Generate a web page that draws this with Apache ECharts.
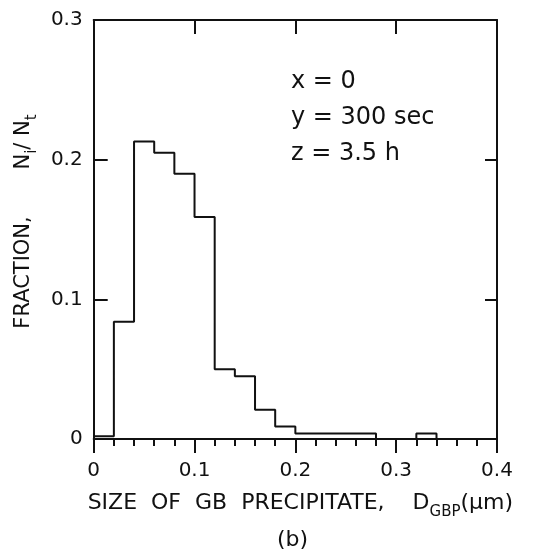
<!DOCTYPE html>
<html>
<head>
<meta charset="UTF-8">
<script src="https://cdn.jsdelivr.net/npm/echarts@6/dist/echarts.min.js"></script>
<style>
  html, body { margin: 0; padding: 0; background: #fff; }
  #main { width: 534px; height: 553px; }
</style>
</head>
<body>
<div id="main"></div>
<script>
// left edges of the size bins (um) and the fraction Ni/Nt
var binEdges = [0, 0.02, 0.04, 0.06, 0.08, 0.10, 0.12, 0.14, 0.16, 0.18,
                0.20, 0.22, 0.24, 0.26, 0.28, 0.30, 0.32, 0.34, 0.36, 0.38, 0.40];
var fractions = [0.002, 0.084, 0.213, 0.205, 0.190, 0.159, 0.050, 0.045, 0.021, 0.009,
                 0.004, 0.004, 0.004, 0.004, 0, 0, 0.004, 0, 0, 0, 0];
var conditions = ['x = 0', 'y = 300 sec', 'z = 3.5 h'];

var font = 'DejaVu Sans';
var ink = '#111';

var histData = binEdges.map(function (x, i) { return [x, fractions[i]]; });

var chart = echarts.init(document.getElementById('main'));

var subStyle = { fontSize: 15, fontFamily: font, color: ink, verticalAlign: 'bottom', lineHeight: 15 };
var line = { onZero: false, lineStyle: { color: ink, width: 2 } };
var tickStyle = { color: ink, width: 2 };

var option = {
  animation: false,
  backgroundColor: '#fff',
  title: {
    text: '(b)',
    left: 272,
    top: 524,
    textStyle: { fontSize: 22, fontWeight: 'normal', fontFamily: font, color: ink }
  },
  grid: { left: 84, right: 37, top: 20, bottom: 114 },
  xAxis: [{
    type: 'value',
    min: 0, max: 0.4, interval: 0.1,
    position: 'bottom',
    axisLine: line,
    axisTick: { inside: false, length: 14, lineStyle: tickStyle },
    minorTick: { show: true, splitNumber: 5, length: 7, lineStyle: tickStyle },
    splitLine: { show: false },
    axisLabel: { fontSize: 20, fontFamily: font, color: ink, margin: 22 },
    name: 'SIZE  OF  GB  PRECIPITATE,    D{sub|GBP}(\u03bcm)',
    nameLocation: 'middle',
    nameGap: 45,
    nameTextStyle: {
      fontSize: 22, fontFamily: font, color: ink, lineHeight: 34,
      padding: [0, 0, 0, 10],
      rich: { sub: subStyle }
    }
  }, {
    type: 'value',
    min: 0, max: 0.4, interval: 0.1,
    position: 'top',
    axisLine: line,
    axisTick: { inside: true, length: 14, lineStyle: tickStyle },
    axisLabel: { show: false },
    splitLine: { show: false }
  }],
  yAxis: [{
    type: 'value',
    min: 0, max: 0.3, interval: 0.1,
    position: 'left',
    axisLine: { show: true, onZero: false, lineStyle: { color: ink, width: 2 } },
    axisTick: { show: true, inside: true, length: 14, lineStyle: tickStyle },
    splitLine: { show: false },
    axisLabel: { fontSize: 20, fontFamily: font, color: ink, margin: 11 },
    name: 'FRACTION,       N{sub|i}/ N{sub|t}',
    nameLocation: 'middle',
    nameRotate: 90,
    nameGap: 50,
    nameTextStyle: {
      fontSize: 21, fontFamily: font, color: ink, lineHeight: 32,
      padding: [0, 0, 0, 16],
      rich: { sub: subStyle }
    }
  }, {
    type: 'value',
    min: 0, max: 0.3, interval: 0.1,
    position: 'right',
    axisLine: { show: true, onZero: false, lineStyle: { color: ink, width: 2 } },
    axisTick: { show: true, inside: true, length: 12, lineStyle: tickStyle },
    axisLabel: { show: false },
    splitLine: { show: false }
  }],
  graphic: conditions.map(function (t, i) {
    return {
      type: 'text',
      left: 291,
      top: 70 + i * 36,
      style: { text: t, fontSize: 24, fontFamily: font, fill: ink }
    };
  }),
  series: [{
    type: 'line',
    xAxisIndex: 0,
    yAxisIndex: 0,
    step: 'end',
    showSymbol: false,
    symbol: 'none',
    lineStyle: { color: ink, width: 2 },
    data: histData
  }]
};

chart.setOption(option);
</script>
</body>
</html>
